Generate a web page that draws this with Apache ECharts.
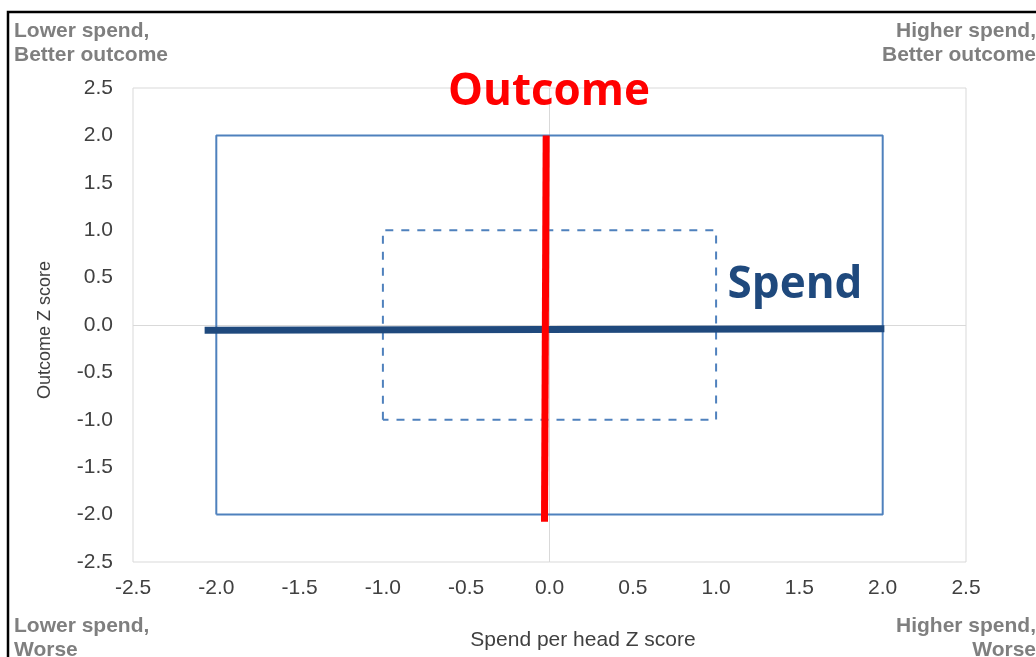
<!DOCTYPE html>
<html>
<head>
<meta charset="utf-8">
<script src="https://cdn.jsdelivr.net/npm/echarts@6/dist/echarts.min.js"></script>
<style>html,body{margin:0;padding:0;background:#fff;}#c{width:1036px;height:657px;}</style>
</head>
<body>
<div id="c"></div>
<script>
// Data
const axisMin = -2.5, axisMax = 2.5, axisStep = 0.5;
const outerBox = [[-2, -2], [-2, 2], [2, 2], [2, -2], [-2, -2]];
const innerBox = [[-1, -1], [-1, 1], [1, 1], [1, -1], [-1, -1]];
const spendLine = [[-2.07, -0.055], [2.01, -0.04]];
const outcomeLine = [[-0.02, 2.0], [-0.03, -2.075]];
const cornerLabels = {
  tl: 'Lower spend,\nBetter outcome',
  tr: 'Higher spend,\nBetter outcome',
  bl: 'Lower spend,\nWorse',
  br: 'Higher spend,\nWorse'
};
const xName = 'Spend per head Z score';
const yName = 'Outcome Z score';

const chart = echarts.init(document.getElementById('c'), null, {renderer: 'canvas'});
const tickFmt = v => v.toFixed(1);
const cornerStyle = {fill: '#7f7f7f', font: 'bold 21px "Liberation Sans", Arial, sans-serif', lineHeight: 24};
chart.setOption({
  animation: false,
  backgroundColor: '#fff',
  grid: {left: 133, right: 70, top: 88, bottom: 95, show: true, borderColor: '#d9d9d9', borderWidth: 1},
  xAxis: {
    type: 'value', min: axisMin, max: axisMax, interval: axisStep,
    name: xName, nameLocation: 'middle', nameGap: 68,
    nameTextStyle: {color: '#404040', fontSize: 21, fontFamily: '"Liberation Sans", Arial', padding: [0, 0, 0, 67]},
    axisLine: {show: false}, axisTick: {show: false}, splitLine: {show: false},
    axisLabel: {formatter: tickFmt, color: '#404040', fontSize: 21, fontFamily: '"Liberation Sans", Arial', margin: 16}
  },
  yAxis: {
    type: 'value', min: axisMin, max: axisMax, interval: axisStep,
    name: yName, nameLocation: 'middle', nameGap: 79,
    nameTextStyle: {color: '#404040', fontSize: 18, fontFamily: '"Liberation Sans", Arial', padding: [0, 10, 0, 0]},
    axisLine: {show: false}, axisTick: {show: false}, splitLine: {show: false},
    axisLabel: {formatter: tickFmt, color: '#404040', fontSize: 21, fontFamily: '"Liberation Sans", Arial', margin: 20}
  },
  series: [
    {type: 'line', data: outerBox, symbol: 'none', lineStyle: {color: '#4f81bd', width: 2}, z: 3,
     markLine: {silent: true, symbol: 'none', label: {show: false}, lineStyle: {color: '#d9d9d9', width: 1, type: 'solid'},
       data: [{xAxis: 0}, {yAxis: 0}], z: 1}},
    {type: 'line', data: innerBox, symbol: 'none', lineStyle: {color: '#4f81bd', width: 2, type: [8, 8]}, z: 3},
    {type: 'line', data: spendLine, symbol: 'none', lineStyle: {color: '#1f497d', width: 7, cap: 'butt'}, z: 4},
    {type: 'line', data: outcomeLine, symbol: 'none', lineStyle: {color: '#ff0000', width: 7, cap: 'butt'}, z: 5}
  ],
  graphic: [
    {type: 'rect', shape: {x: 8, y: 12, width: 1200, height: 800}, style: {fill: null, stroke: '#000', lineWidth: 2.5}, z: 100},
    {type: 'text', left: 14, top: 19, style: Object.assign({text: cornerLabels.tl}, cornerStyle)},
    {type: 'text', x: 1036, y: 19, style: Object.assign({text: cornerLabels.tr, align: 'right'}, cornerStyle)},
    {type: 'text', left: 14, top: 614, style: Object.assign({text: cornerLabels.bl}, cornerStyle)},
    {type: 'text', x: 1036, y: 614, style: Object.assign({text: cornerLabels.br, align: 'right'}, cornerStyle)},
    {type: 'text', x: 549, y: 92, style: {text: 'Outcome', fill: '#ff0000', font: 'bold 44px "Open Sans", sans-serif', align: 'center', verticalAlign: 'middle'}, z: 10},
    {type: 'text', x: 795, y: 285, style: {text: 'Spend', fill: '#1f497d', font: 'bold 44px "Open Sans", sans-serif', align: 'center', verticalAlign: 'middle'}, z: 10}
  ]
});
</script>
</body>
</html>
